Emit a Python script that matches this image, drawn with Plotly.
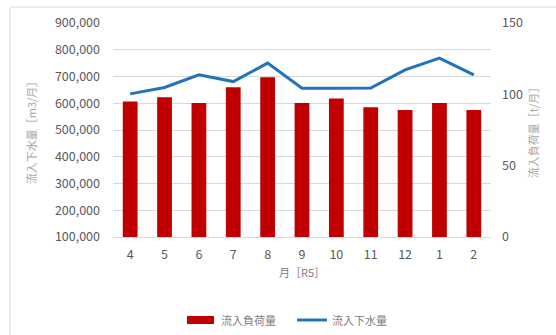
import plotly.graph_objects as go

months = ["4", "5", "6", "7", "8", "9", "10", "11", "12", "1", "2"]
load_t = [95, 98, 94, 105, 112, 94, 97, 91, 89, 94, 89]          # 流入負荷量 [t/月]
inflow_m3 = [635000, 659000, 706000, 681000, 750000, 656000, 656000, 657000, 725000, 769000, 706000]  # 流入下水量 [m3/月]

W, H = 556, 335
L, R, T, B = 113, 65, 23, 98
pw, ph = W - L - R, H - T - B

font = "Noto Sans CJK JP, Noto Sans, sans-serif"

def px(x):
    return (x - L) / pw

def py(y):
    return (ph - (y - T)) / ph

fig = go.Figure()
fig.add_trace(go.Bar(x=months, y=load_t, name="流入負荷量", marker_color="#C00000",
                     yaxis="y2", marker_line_width=0, showlegend=False))
fig.add_trace(go.Scatter(x=months, y=inflow_m3, name="流入下水量", mode="lines",
                         line=dict(color="#2272BC", width=3), yaxis="y", showlegend=False))

fig.update_layout(
    width=W, height=H, autosize=False,
    margin=dict(l=L, r=R, t=T, b=B, pad=0),
    paper_bgcolor="white", plot_bgcolor="white",
    font=dict(family=font, size=12, color="#595959"),
    bargap=0.57,
    showlegend=False,
    xaxis=dict(type="category", showgrid=False, showline=True, linecolor="#D9D9D9",
               linewidth=1, ticks="", tickfont=dict(size=12.5, color="#595959"),
               title=dict(text="月［R5］", font=dict(size=11, color="#808080"), standoff=7),
               ticklabelstandoff=6, automargin=False),
    yaxis=dict(range=[100000, 900000], dtick=100000, tickformat=",", showgrid=True,
               gridcolor="#D9D9D9", gridwidth=1, zeroline=False, ticks="",
               ticklabelstandoff=12, tickfont=dict(size=12.5, color="#595959"), automargin=False,
               title=dict(text="流入下水量［m3/月］", font=dict(size=11, color="#A6A6A6"), standoff=16)),
    yaxis2=dict(range=[0, 150], dtick=50, overlaying="y", side="right", showgrid=False,
                zeroline=False, ticks="", ticklabelstandoff=10, automargin=False,
                tickfont=dict(size=12.5, color="#595959"),
                title=dict(text="流入負荷量［t/月］", font=dict(size=11, color="#A6A6A6"), standoff=8)),
    shapes=[
        dict(type="rect", xref="paper", yref="paper",
             x0=px(10), x1=3, y0=-3, y1=py(7),
             line=dict(color="#D9D9D9", width=1), fillcolor="rgba(0,0,0,0)", layer="below"),
        dict(type="rect", xref="paper", yref="paper",
             x0=px(187), x1=px(214), y0=py(324), y1=py(316),
             line=dict(width=0), fillcolor="#C00000"),
        dict(type="line", xref="paper", yref="paper",
             x0=px(297), x1=px(327), y0=py(320), y1=py(320),
             line=dict(color="#2272BC", width=3)),
    ],
    annotations=[
        dict(text="流入負荷量", xref="paper", yref="paper", x=px(219), y=py(320),
             xanchor="left", yanchor="middle", showarrow=False,
             font=dict(size=11, color="#808080")),
        dict(text="流入下水量", xref="paper", yref="paper", x=px(330), y=py(320),
             xanchor="left", yanchor="middle", showarrow=False,
             font=dict(size=11, color="#808080")),
    ],
)

fig.write_html("out.html")
